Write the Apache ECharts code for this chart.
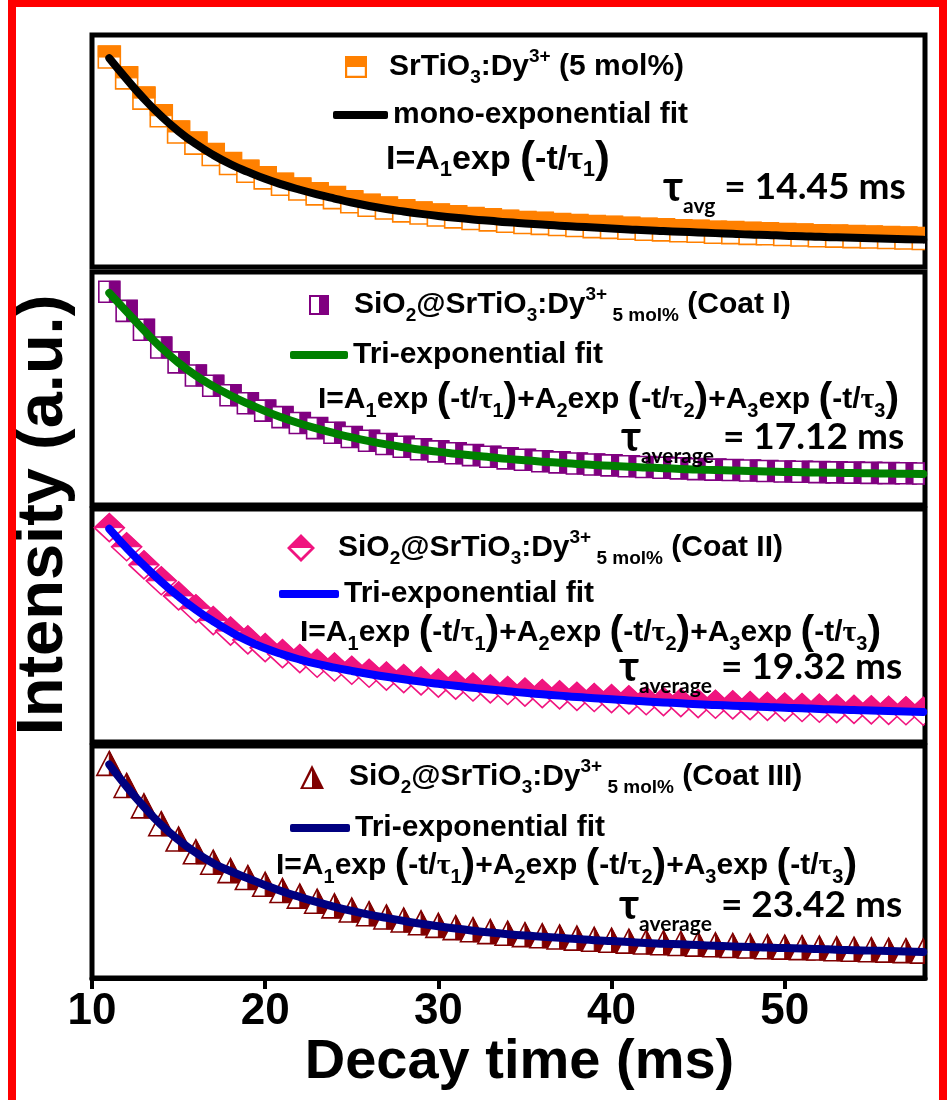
<!DOCTYPE html>
<html><head><meta charset="utf-8">
<script src="https://cdn.jsdelivr.net/npm/echarts@6/dist/echarts.min.js"></script>
<style>html,body{margin:0;padding:0;background:#fff}#c{width:949px;height:1100px}</style>
</head><body><div id="c"></div>
<script>
const decayTime = [11,12,13,14,15,16,17,18,19,20,21,22,23,24,25,26,27,28,29,30,31,32,33,34,35,36,37,38,39,40,41,42,43,44,45,46,47,48,49,50,51,52,53,54,55,56,57,58];
const xTicks = [10,20,30,40,50];

const p1Data = [90.5,81.5,72.8,65.2,58.2,53.4,48.5,44.6,41.3,38.4,35.7,33.6,31.5,29.9,28.1,26.6,25.4,24.2,23.3,22.4,21.6,20.9,20.3,19.7,19.2,18.8,18.3,17.9,17.4,17.1,16.7,16.3,16.0,15.6,15.4,15.0,14.8,14.5,14.3,14.0,13.8,13.5,13.3,13.1,12.9,12.7,12.5,12.3];
const p1Fit = [90,81,72.5,65,58.5,53,48.3,44.3,41,38,35.5,33.3,31.3,29.5,27.8,26.3,25,23.9,22.9,22,21.2,20.5,19.9,19.3,18.8,18.3,17.8,17.4,17,16.6,16.2,15.8,15.5,15.2,14.9,14.6,14.3,14.0,13.8,13.5,13.3,13.0,12.8,12.6,12.4,12.2,12.0,11.8];

const p2Data = [91.5,83.3,75.2,67.6,61.2,55.6,51.2,47.1,43.7,40.5,37.7,35.2,33,31,29.2,27.6,26.2,25,23.9,23,22.2,21.4,20.7,20,19.4,18.8,18.3,17.8,17.4,17,16.6,16.3,16,15.7,15.4,15.2,15,14.8,14.6,14.4,14.3,14.1,14,13.9,13.8,13.7,13.6,13.5];
const p2Fit = [91,83,75,67.5,61,55.5,51,47,43.5,40.3,37.5,35,32.8,30.8,29,27.4,26,24.8,23.7,22.8,22,21.2,20.5,19.8,19.2,18.6,18.1,17.6,17.2,16.8,16.4,16.1,15.8,15.5,15.2,15,14.8,14.6,14.4,14.2,14.05,13.9,13.8,13.7,13.6,13.5,13.4,13.3];

const p3Data = [92,83.8,76,69.2,62.7,57.2,52.1,47.6,43.8,40.5,37.9,35.8,33.8,32.2,30.8,29.5,28.3,27.2,26.2,25.3,24.4,23.6,22.8,22.1,21.4,20.8,20.2,19.6,19.1,18.6,18.1,17.7,17.3,16.9,16.5,16.2,15.9,15.6,15.3,15.0,14.8,14.5,14.3,14.0,13.8,13.6,13.4,13.2];
const p3Fit = [91.5,83.3,75.8,68.8,62.5,56.8,51.8,47.3,43.4,40.2,37.6,35.4,33.5,31.9,30.5,29.2,28.0,26.9,25.9,25.0,24.1,23.3,22.5,21.8,21.1,20.5,19.9,19.3,18.8,18.3,17.8,17.4,17.0,16.6,16.2,15.9,15.6,15.3,15.0,14.7,14.5,14.2,14.0,13.7,13.5,13.3,13.1,12.9];

const p4Data = [92.5,83,74.2,66.5,59.9,54.4,49.9,46.3,43.3,40.4,37.7,35.3,33.1,31.1,29.3,27.7,26.3,25,23.8,22.7,21.7,20.8,20,19.3,18.7,18.2,17.7,17.2,16.7,16.3,15.9,15.5,15.2,14.9,14.6,14.3,14,13.8,13.5,13.3,13.1,12.9,12.6,12.4,12.2,12,11.8,11.6];
const p4Fit = [92,82.5,73.8,66,59.5,54,49.5,46,43,40,37.3,34.9,32.7,30.7,28.9,27.3,25.9,24.6,23.4,22.3,21.3,20.4,19.6,18.9,18.3,17.8,17.3,16.8,16.3,15.9,15.5,15.1,14.8,14.5,14.2,13.9,13.6,13.4,13.1,12.9,12.7,12.5,12.2,12,11.8,11.6,11.4,11.2];

const tauValues = ['14.45', '17.12', '19.32', '23.42'];
const tauSubs = ['avg', 'average', 'average', 'average'];
const coatNames = ['', 'Coat I', 'Coat II', 'Coat III'];
const fitNames = ['mono-exponential fit', 'Tri-exponential fit', 'Tri-exponential fit', 'Tri-exponential fit'];

const ARIAL = '"Liberation Sans", Arial, sans-serif';
const CAL = 'Lato, "Open Sans", "Noto Sans", sans-serif';
const SERIF = '"Liberation Serif", "DejaVu Serif", serif';

const markerColors = ['#FF8000', '#800080', '#F0147F', '#800000'];
const fitColors = ['#000000', '#008000', '#0000FF', '#000080'];
const markerKinds = ['sqTop', 'sqRight', 'diaTop', 'triRight'];
const markerSizes = [[22,22], [21,21], [30,28], [25,24]];
const iconSizes = [[24,22], [20,20], [32,28], [26,24]];
const panelData = [p1Data, p2Data, p3Data, p4Data];
const panelFit = [p1Fit, p2Fit, p3Fit, p4Fit];

const ICONS = {
  sqTop: 'path://M0,0L20,0L20,20L0,20Z M2,2L2,18L18,18L18,2Z M0,0L20,0L20,10L0,10Z',
  sqRight: 'path://M0,0L20,0L20,20L0,20Z M2,2L2,18L18,18L18,2Z M10,0L20,0L20,20L10,20Z',
  diaTop: 'path://M10,0L20,10L10,20L0,10Z M10,2.8L2.8,10L10,17.2L17.2,10Z M10,0L20,10L0,10Z',
  triRight: 'path://M10,0L20,20L0,20Z M10,4.5L2.8,18.5L17.2,18.5Z M10,0L20,20L10,20Z'
};

const grids = [
  {left: 92, top: 35, width: 833, height: 232},
  {left: 92, top: 272, width: 833, height: 233},
  {left: 92, top: 509, width: 833, height: 233},
  {left: 92, top: 746, width: 833, height: 232}
];

function markerRender(kind, color, w, h) {
  return function (params, api) {
    const p = api.coord([api.value(0), api.value(1)]);
    const cx = p[0], cy = p[1], hw = w / 2, hh = h / 2;
    let outline, half;
    if (kind === 'sqTop') {
      outline = {type: 'rect', shape: {x: cx - hw, y: cy - hh, width: w, height: h}};
      half = {type: 'rect', shape: {x: cx - hw, y: cy - hh, width: w, height: hh}};
    } else if (kind === 'sqRight') {
      outline = {type: 'rect', shape: {x: cx - hw, y: cy - hh, width: w, height: h}};
      half = {type: 'rect', shape: {x: cx, y: cy - hh, width: hw, height: h}};
    } else if (kind === 'diaTop') {
      outline = {type: 'polygon', shape: {points: [[cx, cy - hh], [cx + hw, cy], [cx, cy + hh], [cx - hw, cy]]}};
      half = {type: 'polygon', shape: {points: [[cx - hw, cy], [cx, cy - hh], [cx + hw, cy]]}};
    } else {
      outline = {type: 'polygon', shape: {points: [[cx, cy - hh], [cx + hw, cy + hh], [cx - hw, cy + hh]]}};
      half = {type: 'polygon', shape: {points: [[cx, cy - hh], [cx + hw, cy + hh], [cx, cy + hh]]}};
    }
    outline.style = {fill: '#ffffff', stroke: color, lineWidth: 1.6};
    half.style = {fill: color, stroke: color, lineWidth: 1};
    return {type: 'group', children: [outline, half]};
  };
}

const baseRich = {
  g: {width: 14},
  m: {fontSize: 30, fontWeight: 'bold', fontFamily: ARIAL, color: '#000', lineHeight: 40},
  sub: {fontSize: 19, fontWeight: 'bold', fontFamily: ARIAL, color: '#000', lineHeight: 19, verticalAlign: 'bottom'},
  sup: {fontSize: 19, fontWeight: 'bold', fontFamily: ARIAL, color: '#000', lineHeight: 19, verticalAlign: 'top'}
};

function sampleLabel(i) {
  if (i === 0) return '{g|}{m|SrTiO}{sub|3}{m|:Dy}{sup|3+}{m| (5 mol%)}';
  return '{g|}{m|SiO}{sub|2}{m|@SrTiO}{sub|3}{m|:Dy}{sup|3+}{sub| 5 mol%}{m| (' + coatNames[i] + ')}';
}

function eqRich(fs) {
  return {
    m: {fontSize: fs, fontWeight: 'bold', fontFamily: ARIAL, color: '#000', lineHeight: 46},
    p: {fontSize: fs + 11, fontWeight: 'bold', fontFamily: ARIAL, color: '#000', lineHeight: 46},
    tau: {fontSize: fs, fontWeight: 'bold', fontFamily: SERIF, color: '#000', lineHeight: 46},
    sub: {fontSize: Math.round(fs * 0.65), fontWeight: 'bold', fontFamily: ARIAL, color: '#000', lineHeight: 20, verticalAlign: 'bottom', padding: [0, 0, 2, 0]}
  };
}
function eqTerm(n) {
  return '{m|A}{sub|' + n + '}{m|exp }{p|(}{m|-t/}{tau|τ}{sub|' + n + '}{p|)}';
}
const eqTexts = [
  '{m|I=}' + eqTerm(1),
  '{m|I=}' + eqTerm(1) + '{m|+}' + eqTerm(2) + '{m|+}' + eqTerm(3),
  '{m|I=}' + eqTerm(1) + '{m|+}' + eqTerm(2) + '{m|+}' + eqTerm(3),
  '{m|I=}' + eqTerm(1) + '{m|+}' + eqTerm(2) + '{m|+}' + eqTerm(3)
];
const tauRich = {
  t: {fontSize: 42, fontWeight: 'bold', fontFamily: CAL, color: '#000', lineHeight: 60},
  ts: {fontSize: 21, fontWeight: 'bold', fontFamily: CAL, color: '#000', lineHeight: 22, verticalAlign: 'bottom'},
  v: {fontSize: 37, fontWeight: 'bold', fontFamily: CAL, color: '#000', lineHeight: 60}
};

const legendPos = [
  {icon: [345, 47], text: 16, line: [333, 100]},
  {icon: [309, 285], text: 20, line: [290, 340]},
  {icon: [287, 528], text: 16, line: [279, 579]},
  {icon: [300, 757], text: 19, line: [290, 813]}
];
const eqPos = [[386, 160, 34], [318, 400, 30], [300, 633, 30], [276, 866, 30]];
const tauPos = [[663, 187], [621, 437], [619, 667], [619, 905]];
const lineWidths = [55, 58, 60, 60];

const xAxes = [], yAxes = [], series = [], legends = [], graphics = [];
for (let i = 0; i < 4; i++) {
  const bottom = i === 3;
  xAxes.push({
    type: 'value', gridIndex: i, min: 10, max: 58.1, interval: 10,
    show: true,
    axisLine: {show: bottom, lineStyle: {color: '#000', width: 5}},
    axisTick: {show: bottom, inside: false, length: 11, lineStyle: {color: '#000', width: 4}, customValues: xTicks},
    axisLabel: {show: bottom, margin: 12, fontSize: 44, fontWeight: 'bold', fontFamily: ARIAL, color: '#000', customValues: xTicks},
    splitLine: {show: false},
    name: bottom ? 'Decay time (ms)' : '',
    nameLocation: 'middle', nameGap: 56,
    nameTextStyle: {fontSize: 56, fontWeight: 'bold', fontFamily: ARIAL, color: '#000', padding: [0, 0, 0, 22]}
  });
  yAxes.push({type: 'value', gridIndex: i, min: 0, max: 100, show: false});
  const dname = 'sample' + i, fname = 'fit' + i;
  series.push({
    name: dname, type: 'custom', xAxisIndex: i, yAxisIndex: i, clip: true,
    itemStyle: {color: markerColors[i]},
    encode: {x: 0, y: 1},
    renderItem: markerRender(markerKinds[i], markerColors[i], markerSizes[i][0], markerSizes[i][1]),
    data: decayTime.map((t, k) => [t, panelData[i][k]]),
    z: 2
  });
  series.push({
    name: fname, type: 'line', xAxisIndex: i, yAxisIndex: i, smooth: true, showSymbol: false,
    color: fitColors[i],
    lineStyle: {color: fitColors[i], width: 8, cap: 'round', join: 'round'},
    data: decayTime.map((t, k) => [t, panelFit[i][k]]),
    z: 3
  });
  const rich1 = Object.assign({}, baseRich, {g: {width: legendPos[i].text}});
  legends.push({
    left: legendPos[i].icon[0], top: legendPos[i].icon[1], padding: 0, itemGap: 0,
    selectedMode: false, orient: 'horizontal',
    itemWidth: iconSizes[i][0], itemHeight: iconSizes[i][1],
    data: [{name: dname, icon: ICONS[markerKinds[i]], itemStyle: {color: markerColors[i]}}],
    formatter: () => sampleLabel(i),
    textStyle: {rich: rich1, fontSize: 30, fontWeight: 'bold', fontFamily: ARIAL, color: '#000'}
  });
  legends.push({
    left: legendPos[i].line[0], top: legendPos[i].line[1], padding: 0, itemGap: 0,
    selectedMode: false,
    itemWidth: lineWidths[i], itemHeight: 8,
    data: [{name: fname, icon: 'roundRect', itemStyle: {color: fitColors[i]}}],
    formatter: () => '{m|' + fitNames[i] + '}',
    textStyle: {rich: baseRich, fontSize: 30, fontWeight: 'bold', fontFamily: ARIAL, color: '#000'}
  });
  graphics.push({
    type: 'text', x: eqPos[i][0], y: eqPos[i][1], z: 10,
    style: {text: eqTexts[i], rich: eqRich(eqPos[i][2]), align: 'left', verticalAlign: 'middle'}
  });
  graphics.push({
    type: 'text', x: tauPos[i][0], y: tauPos[i][1], z: 10,
    style: {text: '{t|τ}{ts|' + tauSubs[i] + '}{v| = ' + tauValues[i] + ' ms}', rich: tauRich, align: 'left', verticalAlign: 'middle'}
  });
}
graphics.push({
  type: 'text', x: 44, y: 515, rotation: Math.PI / 2, z: 10,
  style: {text: 'Intensity (a.u.)', fontSize: 65, fontWeight: 'bold', fontFamily: ARIAL, fill: '#000', align: 'center', verticalAlign: 'middle'}
});
graphics.push({
  type: 'rect', z: 20, shape: {x: 12, y: 3, width: 931, height: 1110},
  style: {fill: 'none', stroke: '#FF0000', lineWidth: 8}
});

const chart = echarts.init(document.getElementById('c'), null, {renderer: 'canvas', width: 949, height: 1100});
chart.setOption({
  backgroundColor: '#ffffff',
  animation: false,
  grid: grids.map(g => Object.assign({show: true, borderColor: '#000', borderWidth: 5, backgroundColor: 'transparent', containLabel: false}, g)),
  xAxis: xAxes,
  yAxis: yAxes,
  legend: legends,
  series: series,
  graphic: graphics
});
</script></body></html>
